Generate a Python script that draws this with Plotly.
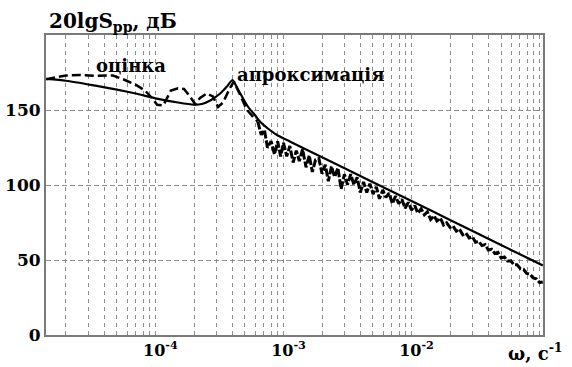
import plotly.graph_objects as go

# ---- data ----
omega_approx = [1.4e-5, 2.0e-5, 3.4e-5, 5.0e-5, 7.0e-5, 1.0e-4, 1.5e-4, 2.0e-4, 2.3e-4,
                2.7e-4, 3.2e-4, 3.6e-4, 4.0e-4, 4.3e-4, 4.6e-4, 5.2e-4, 6.0e-4, 6.6e-4,
                7.6e-4, 8.9e-4, 1.12e-3, 2.0e-3, 5.0e-3, 1.0e-2, 2.0e-2, 5.0e-2, 0.106]
S_approx = [170.7, 169.5, 166.2, 163.6, 161.0, 157.8, 155.0, 153.6, 154.0,
            156.5, 161.0, 165.5, 170.0, 165.5, 161.0, 153.0, 146.5, 142.0,
            137.5, 133.3, 129.0, 118.5, 101.9, 89.3, 76.7, 60.0, 46.4]

omega_est = [1.4e-5, 1.67e-5, 2.0e-5, 2.57e-5, 3.37e-5, 4.65e-5, 5.78e-5, 7.05e-5, 8.28e-5,
             9.39e-5, 1.03e-4, 1.15e-4, 1.23e-4, 1.32e-4, 1.50e-4, 1.67e-4, 1.86e-4, 2.04e-4,
             2.23e-4, 2.52e-4, 2.81e-4, 3.08e-4, 3.37e-4, 3.82e-4, 4.10e-4, 4.57e-4, 5.19e-4,
             5.99e-4,
             6.3e-4, 6.7e-4, 7.1e-4, 7.5e-4, 8.0e-4, 8.5e-4, 9.0e-4, 9.5e-4, 1.0e-3, 1.06e-3,
             1.12e-3, 1.19e-3, 1.26e-3, 1.33e-3, 1.41e-3, 1.5e-3, 1.59e-3, 1.68e-3, 1.78e-3,
             1.89e-3, 2.0e-3, 2.12e-3, 2.24e-3, 2.37e-3, 2.51e-3, 2.66e-3, 2.82e-3, 2.99e-3,
             3.16e-3, 3.35e-3, 3.55e-3, 3.76e-3, 3.98e-3, 4.22e-3, 4.47e-3, 4.73e-3, 5.01e-3,
             5.31e-3, 5.62e-3, 5.96e-3, 6.31e-3, 6.68e-3, 7.08e-3, 7.50e-3, 7.94e-3, 8.41e-3,
             8.91e-3, 9.44e-3, 1.0e-2, 1.06e-2, 1.12e-2, 1.19e-2, 1.26e-2, 1.33e-2, 1.41e-2,
             1.50e-2, 1.58e-2, 1.68e-2, 1.78e-2, 1.88e-2, 2.0e-2, 2.11e-2, 2.24e-2, 2.37e-2,
             2.51e-2, 2.66e-2, 2.82e-2, 2.99e-2, 3.16e-2, 3.35e-2, 3.55e-2, 3.76e-2, 3.98e-2,
             4.22e-2, 4.47e-2, 4.73e-2, 5.01e-2, 5.31e-2, 5.62e-2, 5.96e-2, 6.31e-2, 6.68e-2,
             7.08e-2, 7.50e-2, 7.94e-2, 8.41e-2, 8.91e-2, 9.44e-2, 0.100, 0.106]
S_est = [170.5, 171.5, 173.0, 173.3, 172.8, 173.0, 170.0, 166.7, 163.0,
         158.0, 153.5, 153.0, 158.0, 163.0, 164.5, 164.0, 159.0, 154.0,
         158.0, 161.0, 159.0, 152.0, 155.0, 164.7, 169.0, 160.0, 150.0,
         144.0,
         142.3, 133.5, 136.7, 124.9, 129.2, 120.5, 129.1, 119.1, 128.1, 119.1,
         126.0, 115.0, 122.9, 116.0, 123.9, 111.8, 119.7, 108.7, 116.7,
         117.6, 107.5, 113.5, 102.5, 112.4, 105.4, 111.4, 97.3, 107.2,
         100.2, 107.2, 100.1, 105.1, 95.0, 102.0, 95.0, 100.9, 93.9,
         98.8, 90.8, 96.7, 91.7, 94.6, 87.6, 92.6, 87.5, 90.5,
         84.4, 88.4, 83.3, 86.3, 81.2, 84.2, 80.1, 82.1, 77.0,
         79.5, 76.0, 77.9, 73.4, 74.8, 71.8, 72.7, 69.2, 70.6,
         66.8, 67.9, 64.7, 65.4, 61.8, 62.4, 59.6, 60.3, 56.6,
         57.2, 54.4, 55.1, 51.4, 52.0, 49.3, 49.4, 46.8, 46.8,
         44.2, 43.7, 41.1, 40.6, 38.0, 37.5, 35.0, 35.4]

y_ticks = [0, 50, 100, 150]
x_labelled = {1e-4: "10<sup>-4</sup>", 1e-3: "10<sup>-3</sup>", 1e-2: "10<sup>-2</sup>"}

# gridline positions (every k*10^n) with labels only on decades
x_grid = []
for e in range(-5, 0):
    for k in range(1, 10):
        v = round(k * 10 ** e, 12)
        if 1.4e-5 <= v <= 0.106:
            x_grid.append(v)
x_text = [next((t for d, t in x_labelled.items() if abs(v / d - 1) < 1e-6), "") for v in x_grid]

FONT = "DejaVu Serif"
split = 28  # low-frequency part of the estimate drawn dashed, the dense tail heavier

fig = go.Figure()
fig.add_trace(go.Scatter(x=omega_est[:split + 1], y=S_est[:split + 1], mode="lines",
                         line=dict(color="black", width=2.5, dash="9px,4px"),
                         showlegend=False))
fig.add_trace(go.Scatter(x=omega_est[split:], y=S_est[split:], mode="lines",
                         line=dict(color="black", width=3, dash="8px,2px"),
                         showlegend=False))
fig.add_trace(go.Scatter(x=omega_approx, y=S_approx, mode="lines",
                         line=dict(color="black", width=2.2, shape="spline", smoothing=0.6),
                         showlegend=False))

fig.update_layout(
    width=572, height=367,
    margin=dict(l=46, r=29, t=35, b=32),
    paper_bgcolor="white", plot_bgcolor="white",
    font=dict(family=FONT, color="black", size=16),
    xaxis=dict(type="log", range=[-4.855, -0.973], tickvals=x_grid, ticktext=x_text,
               showgrid=True, gridcolor="#8c8c8c", gridwidth=1, griddash="4px,4px",
               showline=True, linecolor="#7a7a7a", linewidth=2, mirror=True,
               ticks="", zeroline=False, automargin=False, ticklabelshift=5,
               tickfont=dict(family=FONT, size=16, color="black", weight="bold")),
    yaxis=dict(range=[0, 200], tickvals=y_ticks,
               showgrid=True, gridcolor="#8c8c8c", gridwidth=1, griddash="5px,3px",
               showline=True, linecolor="#7a7a7a", linewidth=2, mirror=True,
               ticks="", zeroline=False, automargin=False,
               tickfont=dict(family=FONT, size=17, color="black", weight="bold")),
)

ann_font = dict(family=FONT, size=18, color="black", weight="bold")
fig.add_annotation(text="20lgS<sub>pp</sub>, дБ", xref="paper", yref="paper",
                   x=0.134, y=1.0, xanchor="center", yanchor="bottom", showarrow=False,
                   font=dict(family=FONT, size=20, color="black", weight="bold"), yshift=-2)
fig.add_annotation(text="ω, с<sup>-1</sup>", xref="paper", yref="paper",
                   x=0.925, y=-0.057, xanchor="left", yanchor="middle", showarrow=False,
                   font=ann_font)
fig.add_annotation(text="оцінка", x=-4.191, y=179.5, xanchor="center", yanchor="middle",
                   showarrow=False, font=ann_font)
fig.add_annotation(text="апроксимація", x=-2.789, y=173.5, xanchor="center", yanchor="middle",
                   showarrow=False, font=ann_font)

fig.write_html("out.html", config={"displayModeBar": False},
               post_script="document.body.style.margin='0px';")
